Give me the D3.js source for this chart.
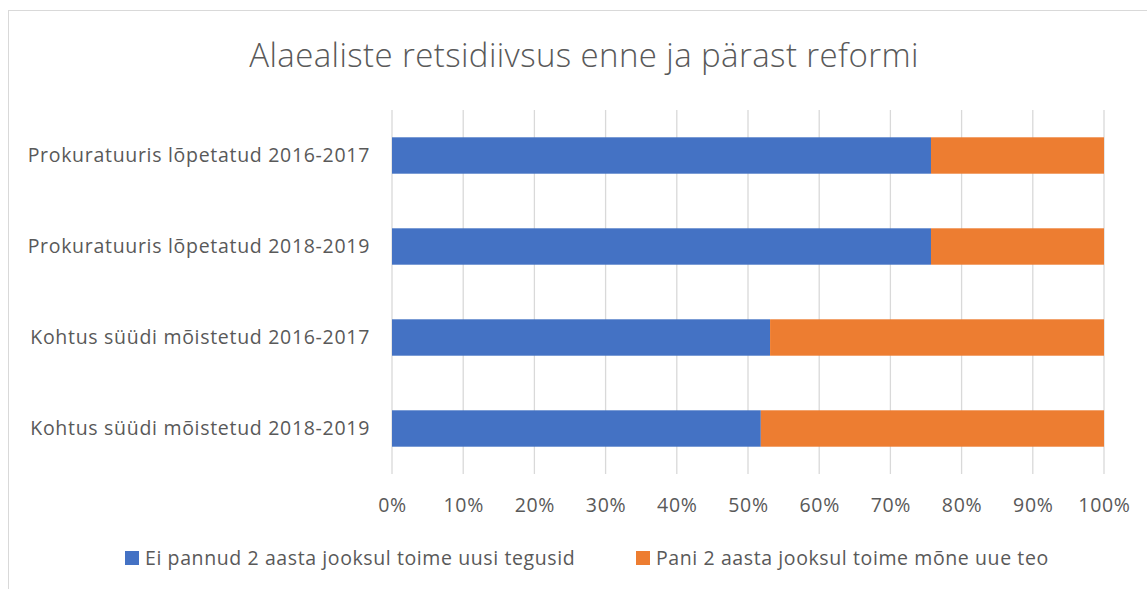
<!DOCTYPE html>
<html>
<head>
<meta charset="utf-8">
<script src="https://cdn.jsdelivr.net/npm/d3@7"></script>
<style>
  body { margin: 0; background: #fff; }
  text { font-family: "Open Sans", "Noto Sans", sans-serif; fill: #595959; }
</style>
</head>
<body>
<svg id="chart" width="1147" height="589"></svg>
<script>
// data
const categories = [
  "Prokuratuuris lõpetatud 2016-2017",
  "Prokuratuuris lõpetatud 2018-2019",
  "Kohtus süüdi mõistetud 2016-2017",
  "Kohtus süüdi mõistetud 2018-2019"
];
const seriesNames = [
  "Ei pannud 2 aasta jooksul toime uusi tegusid",
  "Pani 2 aasta jooksul toime mõne uue teo"
];
const noNewOffence = [0.757, 0.757, 0.531, 0.518];
const newOffence = [0.243, 0.243, 0.469, 0.482];
const tickValues = [0, 0.1, 0.2, 0.3, 0.4, 0.5, 0.6, 0.7, 0.8, 0.9, 1];
const colors = ["#4472c4", "#ed7d31"];

const svg = d3.select("#chart");

// chart border
svg.append("rect")
    .attr("x", 8.5).attr("y", 10.5)
    .attr("width", 1150).attr("height", 600)
    .attr("fill", "none")
    .attr("stroke", "#d9d9d9");

const margin = {left: 392, right: 43, top: 110, bottom: 474};

const x = d3.scaleLinear().domain([0, 1]).range([margin.left, 1147 - margin.right]);
const y = d3.scaleBand().domain(categories).range([margin.top, margin.bottom]).paddingInner(0.6).paddingOuter(0.3);

// gridlines
svg.append("g")
    .selectAll("line")
    .data(tickValues)
    .join("line")
    .attr("x1", d => x(d)).attr("x2", d => x(d))
    .attr("y1", margin.top).attr("y2", margin.bottom)
    .attr("stroke", "#d9d9d9")
    .attr("stroke-width", 1.3);

const rows = categories.map((c, i) => ({cat: c, vals: [noNewOffence[i], newOffence[i]]}));
const stacked = d3.stack().keys([0, 1]).value((d, k) => d.vals[k])(rows);

svg.append("g")
    .selectAll("g")
    .data(stacked)
    .join("g")
    .attr("fill", (d, i) => colors[i])
    .selectAll("rect")
    .data(d => d)
    .join("rect")
    .attr("x", d => x(d[0]))
    .attr("width", d => x(d[1]) - x(d[0]))
    .attr("y", d => y(d.data.cat))
    .attr("height", y.bandwidth());

// category labels
svg.append("g")
    .selectAll("text")
    .data(categories)
    .join("text")
    .attr("x", 370)
    .attr("y", d => y(d) + y.bandwidth() / 2)
    .attr("dy", "0.35em")
    .attr("text-anchor", "end")
    .attr("font-size", 19.5)
    .attr("letter-spacing", 0.7)
    .text(d => d);

// x axis labels
const xAxis = d3.axisBottom(x).tickValues(tickValues).tickFormat(d3.format(".0%")).tickSize(0).tickPadding(0);
const gx = svg.append("g").attr("transform", "translate(0,505)").call(xAxis);
gx.select(".domain").remove();
gx.selectAll("text")
    .attr("font-size", 19.5)
    .attr("letter-spacing", 0.7)
    .attr("font-family", null)
    .attr("fill", null)
    .attr("dy", "0.35em")
    .attr("y", 0);

// title
svg.append("text")
    .attr("x", 584)
    .attr("y", 67)
    .attr("text-anchor", "middle")
    .attr("font-size", 33)
    .attr("font-weight", 300)
    .attr("letter-spacing", 0.4)
    .text("Alaealiste retsidiivsus enne ja pärast reformi");

// legend
const legendX = [125, 636];
const legend = svg.append("g")
    .selectAll("g")
    .data(seriesNames)
    .join("g")
    .attr("transform", (d, i) => `translate(${legendX[i]},558)`);
legend.append("rect")
    .attr("x", 0).attr("y", -7)
    .attr("width", 14).attr("height", 14)
    .attr("fill", (d, i) => colors[i]);
legend.append("text")
    .attr("x", 20)
    .attr("dy", "0.35em")
    .attr("font-size", 19.5)
    .attr("letter-spacing", 0.6)
    .text(d => d);
</script>
</body>
</html>
